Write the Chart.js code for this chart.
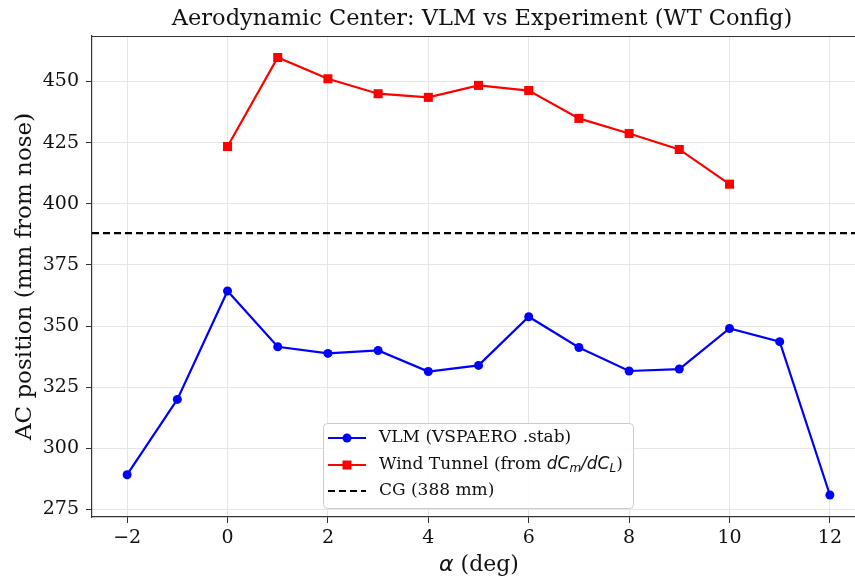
<!DOCTYPE html>
<html lang="en">
<head>
<meta charset="UTF-8" />
<title>Aerodynamic Center: VLM vs Experiment</title>
<script src="https://cdn.jsdelivr.net/npm/chart.js"></script>
<style>
  body { margin: 0; background: #fff; }
  canvas { display: block; }
</style>
</head>
<body>
<canvas id="chart" width="855" height="578"></canvas>
<script>
// data
const alphaVlm = [-2, -1, 0, 1, 2, 3, 4, 5, 6, 7, 8, 9, 10, 11, 12];
const acVlm = [289.2, 320.0, 364.3, 341.5, 338.8, 340.0, 331.4, 333.9, 353.8, 341.2, 331.6, 332.4, 349.0, 343.6, 280.9];
const alphaWt = [0, 1, 2, 3, 4, 5, 6, 7, 8, 9, 10];
const acWt = [423.4, 459.8, 451.1, 445.0, 443.5, 448.4, 446.3, 434.9, 428.7, 422.2, 408.0];
const cgPos = 388;
const xTicks = [-2, 0, 2, 4, 6, 8, 10, 12];
const yTicks = [275, 300, 325, 350, 375, 400, 425, 450];
const xMin = -2.7, xMax = 12.5;
const yMin = 271.9, yMax = 468.6;

const serif = "'DejaVu Serif', serif";
const ink = '#333';

function pts(xs, ys) {
  return xs.map((x, i) => ({ x: x, y: ys[i] }));
}

// title, top spine, x label with italic alpha, legend
const decor = {
  id: 'decor',
  afterDraw(chart) {
    const c = chart.ctx;
    const a = chart.chartArea;
    c.save();
    c.strokeStyle = ink;
    c.lineWidth = 1.2;
    c.beginPath();
    c.moveTo(a.left, a.top + 0.5);
    c.lineTo(a.right, a.top + 0.5);
    c.stroke();

    c.fillStyle = '#111';
    c.font = '22.5px ' + serif;
    c.textAlign = 'center';
    c.textBaseline = 'middle';
    c.fillText('Aerodynamic Center: VLM vs Experiment (WT Config)', 482, 19);

    // x axis label
    c.font = 'italic 22px DejaVu Sans';
    const w1 = c.measureText('α').width;
    c.font = '22px ' + serif;
    const w2 = c.measureText(' (deg)').width;
    let x0 = 479 - (w1 + w2) / 2;
    c.textAlign = 'left';
    c.font = 'italic 22px DejaVu Sans';
    c.fillText('α', x0, 565);
    c.font = '22px ' + serif;
    c.fillText(' (deg)', x0 + w1, 565);

    // legend
    const bx = 323, by = 423, bw = 310, bh = 85;
    c.fillStyle = 'rgba(255,255,255,0.85)';
    c.strokeStyle = '#cccccc';
    c.lineWidth = 1;
    c.beginPath();
    c.roundRect(bx + 0.5, by + 0.5, bw, bh, 4);
    c.fill();
    c.stroke();

    const rows = [438, 465, 491];
    // VLM
    c.strokeStyle = '#0000ff';
    c.lineWidth = 2.2;
    c.beginPath(); c.moveTo(328, rows[0]); c.lineTo(366, rows[0]); c.stroke();
    c.fillStyle = '#0000ff';
    c.beginPath(); c.arc(347, rows[0], 4.5, 0, Math.PI * 2); c.fill();
    // WT
    c.strokeStyle = '#ff0000';
    c.beginPath(); c.moveTo(328, rows[1]); c.lineTo(366, rows[1]); c.stroke();
    c.fillStyle = '#ff0000';
    c.fillRect(342.5, rows[1] - 4.5, 9, 9);
    // CG
    c.strokeStyle = '#000';
    c.setLineDash([7, 4]);
    c.beginPath(); c.moveTo(328, rows[2]); c.lineTo(366, rows[2]); c.stroke();
    c.setLineDash([]);

    c.fillStyle = '#111';
    c.textAlign = 'left';
    c.font = '17px ' + serif;
    c.fillText('VLM (VSPAERO .stab)', 379, rows[0]);
    c.fillText('CG (388 mm)', 379, rows[2]);
    let tx = 379;
    const seg = (t, f, dy) => {
      c.font = f;
      c.fillText(t, tx, rows[1] + dy);
      tx += c.measureText(t).width;
    };
    seg('Wind Tunnel (from ', '17px ' + serif, 0);
    seg('dC', 'italic 17px DejaVu Sans', 0);
    seg('m', 'italic 12px DejaVu Sans', 4);
    seg('/dC', 'italic 17px DejaVu Sans', 0);
    seg('L', 'italic 12px DejaVu Sans', 4);
    seg(')', '17px ' + serif, 0);
    c.restore();
  }
};

new Chart(document.getElementById('chart'), {
  type: 'line',
  data: {
    datasets: [
      {
        label: 'VLM (VSPAERO .stab)',
        data: pts(alphaVlm, acVlm),
        borderColor: '#0000ff',
        backgroundColor: '#0000ff',
        borderWidth: 2.2,
        pointStyle: 'circle',
        pointRadius: 4.5,
        pointBorderWidth: 0
      },
      {
        label: 'Wind Tunnel',
        data: pts(alphaWt, acWt),
        borderColor: '#ff0000',
        backgroundColor: '#ff0000',
        borderWidth: 2.2,
        pointStyle: 'rect',
        pointRadius: 6.4,
        pointBorderWidth: 0
      },
      {
        label: 'CG (388 mm)',
        data: [{ x: xMin, y: cgPos }, { x: xMax, y: cgPos }],
        borderColor: '#000',
        borderWidth: 2.2,
        borderDash: [7, 4],
        pointRadius: 0
      }
    ]
  },
  options: {
    responsive: false,
    animation: false,
    layout: { autoPadding: false, padding: { top: 36, right: 0, left: 0, bottom: 0 } },
    plugins: {
      legend: { display: false },
      tooltip: { enabled: false }
    },
    scales: {
      x: {
        type: 'linear',
        min: xMin,
        max: xMax,
        afterBuildTicks: s => { s.ticks = xTicks.map(v => ({ value: v })); },
        afterFit: s => { s.height = 61; s.paddingLeft = 0; s.paddingRight = 0; },
        grid: { color: '#e6e6e6', lineWidth: 1, tickColor: ink, tickLength: 6 },
        border: { color: ink, width: 1.2 },
        ticks: {
          color: '#111',
          font: { family: serif, size: 19 },
          padding: 4,
          maxRotation: 0,
          callback: v => (v < 0 ? '\u2212' + Math.abs(v) : String(v))
        }
      },
      y: {
        type: 'linear',
        min: yMin,
        max: yMax,
        afterBuildTicks: s => { s.ticks = yTicks.map(v => ({ value: v })); },
        afterFit: s => { s.width = 92; s.paddingTop = 0; s.paddingBottom = 0; },
        grid: { color: '#e6e6e6', lineWidth: 1, tickColor: ink, tickLength: 6 },
        border: { color: ink, width: 1.2 },
        title: {
          display: true,
          text: 'AC position (mm from nose)',
          color: '#111',
          font: { family: serif, size: 23 },
          padding: { top: 11, bottom: 0 }
        },
        ticks: {
          color: '#111',
          font: { family: serif, size: 19 },
          padding: 7
        }
      }
    }
  },
  plugins: [decor]
});
</script>
</body>
</html>
